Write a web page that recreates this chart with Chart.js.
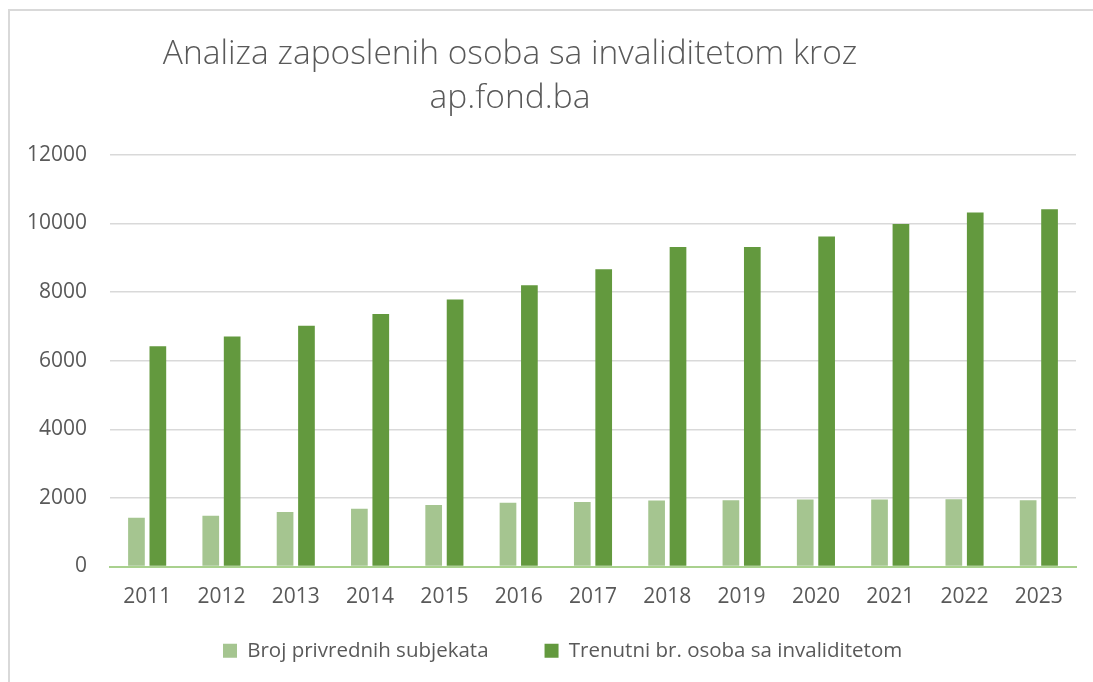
<!DOCTYPE html>
<html>
<head>
<meta charset="utf-8">
<script src="https://cdn.jsdelivr.net/npm/chart.js@4.4.1/dist/chart.umd.min.js"></script>
<style>
  html, body { margin: 0; padding: 0; background: #ffffff; }
  #wrap { position: relative; width: 1093px; height: 682px; overflow: hidden; }
  #frame { position: absolute; left: 8px; top: 9px; right: -10px; bottom: -10px;
           border-top: 2px solid #d9d9d9; border-left: 2px solid #d9d9d9; }
  canvas { position: absolute; left: 0; top: 0; }
</style>
</head>
<body>
<div id="wrap">
  <div id="frame"></div>
  <canvas id="c" width="1093" height="682"></canvas>
</div>
<script>
const titleLines = ["Analiza zaposlenih osoba sa invaliditetom kroz", "ap.fond.ba"];
const years = ["2011","2012","2013","2014","2015","2016","2017","2018","2019","2020","2021","2022","2023"];
const seriesNames = ["Broj privrednih subjekata", "Trenutni br. osoba sa invaliditetom"];
const brojSubjekata = [1420, 1480, 1590, 1680, 1790, 1860, 1880, 1920, 1930, 1950, 1950, 1960, 1930];
const trenutniOsoba = [6420, 6700, 7020, 7360, 7780, 8200, 8660, 9310, 9310, 9620, 9980, 10320, 10410];
const yTicks = [0, 2000, 4000, 6000, 8000, 10000, 12000];

const TEXT = '#595959';
const FONT = '"Open Sans", Roboto, sans-serif';

const shiftPlugin = {
  id: 'shiftBlocks',
  afterLayout(chart) {
    const t = chart.titleBlock;
    if (t) { t.left -= 28; t.right -= 28; }
    const lg = chart.legend;
    if (lg) {
      const pad = lg.options.labels.padding;
      lg.left = 223 - pad;
      lg.top = 640.5 - pad;
    }
  }
};

new Chart(document.getElementById('c'), {
  type: 'bar',
  data: {
    labels: years,
    datasets: [
      { label: seriesNames[0], data: brojSubjekata, backgroundColor: '#a5c590',
        categoryPercentage: 0.576, barPercentage: 0.78 },
      { label: seriesNames[1], data: trenutniOsoba, backgroundColor: '#63993e',
        categoryPercentage: 0.576, barPercentage: 0.78 }
    ]
  },
  plugins: [shiftPlugin],
  options: {
    responsive: false,
    devicePixelRatio: 1,
    animation: false,
    layout: { padding: { left: 0, right: 17, top: 0, bottom: -14 } },
    plugins: {
      title: {
        display: true,
        text: titleLines,
        color: TEXT,
        font: { family: FONT, size: 33.5, weight: '300', lineHeight: 1.313 },
        padding: { top: 32.3, bottom: 34.5 }
      },
      legend: {
        position: 'bottom',
        align: 'start',
        labels: {
          color: TEXT,
          font: { family: FONT, size: 20.5 },
          boxWidth: 14,
          boxHeight: 14,
          padding: 56
        }
      },
      tooltip: { enabled: false }
    },
    scales: {
      x: {
        grid: { display: false },
        border: { display: true, color: '#a9d18e', width: 2 },
        ticks: { color: TEXT, font: { family: FONT, size: 21 }, padding: 10, maxRotation: 0 },
        afterFit(scale) { scale.height = 43; }
      },
      y: {
        min: 0,
        max: 12000,
        afterBuildTicks(scale) { scale.ticks = yTicks.map(v => ({ value: v })); },
        grid: { color: '#d9d9d9', lineWidth: 1.5, drawTicks: false },
        border: { display: false },
        ticks: { color: TEXT, font: { family: FONT, size: 21 }, padding: 23,
                 callback: (v) => String(v) },
        afterFit(scale) { scale.width = 110; }
      }
    }
  }
});
</script>
</body>
</html>
